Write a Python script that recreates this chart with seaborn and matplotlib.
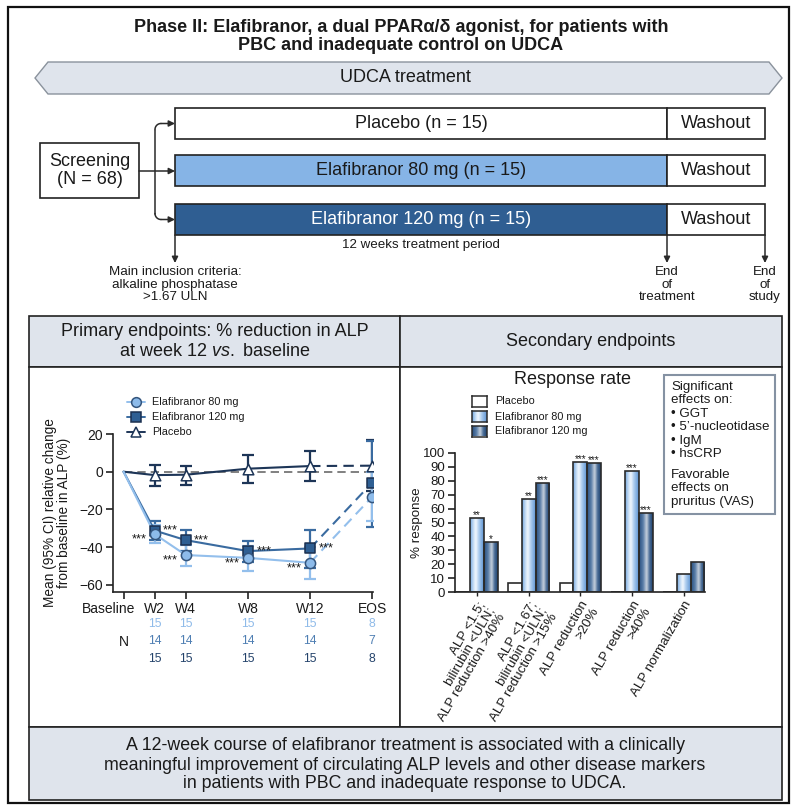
import numpy as np
import pandas as pd
import matplotlib
matplotlib.use("Agg")
import matplotlib.pyplot as plt
import seaborn as sns
from matplotlib.patches import Rectangle, Polygon
from matplotlib.colors import LinearSegmentedColormap
from matplotlib.transforms import ScaledTranslation

# ---------------- data ----------------
weeks = [0, 2, 4, 8, 12, 16]
week_labels = ["Baseline", "W2", "W4", "W8", "W12", "EOS"]

alp_80 = [0, -33.1, -44.2, -45.7, -48.3, -13.3]
alp_80_lo = [0, -38.0, -50.0, -52.6, -56.9, -26.0]
alp_80_hi = [0, -28.0, -39.0, -39.5, -40.0, 0.0]

alp_120 = [0, -31.2, -36.3, -42.1, -40.7, -5.8]
alp_120_lo = [0, -36.3, -42.0, -47.8, -50.9, -29.2]
alp_120_hi = [0, -26.0, -30.8, -36.6, -30.8, 16.5]

alp_pbo = [0, -1.8, -1.6, 1.6, 3.0, 3.2]
alp_pbo_lo = [0, -7.4, -6.9, -6.2, -5.1, -10.4]
alp_pbo_hi = [0, 3.7, 3.2, 9.0, 11.2, 17.0]

n_80 = [15, 15, 15, 15, 8]
n_120 = [14, 14, 14, 14, 7]
n_pbo = [15, 15, 15, 15, 8]

sig_alp_80 = ["***", "***", "***", "***"]
sig_alp_120 = ["***", "***", "***", "***"]

criteria = [
    "ALP <1.5;\nbilirubin <ULN;\nALP reduction >40%",
    "ALP <1.67;\nbilirubin <ULN;\nALP reduction >15%",
    "ALP reduction\n>20%",
    "ALP reduction\n>40%",
    "ALP normalization",
]
resp_groups = ["Placebo", "Elafibranor 80 mg", "Elafibranor 120 mg"]
resp_pbo = [0, 6.7, 6.7, 0, 0]
resp_80 = [53.3, 66.7, 93.3, 86.7, 13.3]
resp_120 = [35.7, 78.6, 92.9, 57.1, 21.4]
sig_resp_80 = ["**", "**", "***", "***", ""]
sig_resp_120 = ["*", "***", "***", "***", ""]

effects = ["\u2022 GGT", "\u2022 5\u2019-nucleotidase", "\u2022 IgM", "\u2022 hsCRP"]

# ---------------- style ----------------
sns.set_theme(style="ticks")
plt.rcParams["font.family"] = ["Liberation Sans", "DejaVu Sans"]
plt.rcParams["mathtext.fontset"] = "custom"
plt.rcParams["mathtext.rm"] = "Liberation Sans"
plt.rcParams["mathtext.it"] = "Liberation Sans:italic"
plt.rcParams["axes.unicode_minus"] = True

C80_LINE, C80_FACE, C80_EDGE = "#93bfec", "#8dbbea", "#34557d"
C120_LINE, C120_FACE, C120_EDGE = "#3a6ba0", "#2f5f93", "#1b3050"
CPBO_LINE, CPBO_EDGE = "#1d3557", "#1d3557"
N_COLORS = ["#8fbbe9", "#4f7fb3", "#24436b"]
PANEL_FILL = "#dfe4ec"
BOX80 = "#86b4e6"
BOX120 = "#2f5e92"
INK = "#1a1a1a"

W, H = 792, 806
fig = plt.figure(figsize=(W / 100, H / 100), dpi=100)
bg = fig.add_axes([0, 0, 1, 1])
bg.set_xlim(0, W)
bg.set_ylim(H, 0)
bg.axis("off")


def px_axes(x0, y0, x1, y1):
    return fig.add_axes([x0 / W, 1 - y1 / H, (x1 - x0) / W, (y1 - y0) / H])


def box(x0, y0, x1, y1, fc="white", ec="#222222", lw=1.2, z=1):
    bg.add_patch(Rectangle((x0, y0), x1 - x0, y1 - y0, fc=fc, ec=ec, lw=lw, zorder=z))


def arrow(x0, y0, x1, y1):
    bg.annotate("", xy=(x1, y1), xytext=(x0, y0),
                arrowprops=dict(arrowstyle="-|>", color="#2a2a2a", lw=1.1,
                                mutation_scale=9, shrinkA=0, shrinkB=0), zorder=3)


# ---------------- study design ----------------
box(8, 7, 789, 803, fc="none", ec="#111111", lw=1.6, z=0)

bg.text(401, 28, "Phase II: Elafibranor, a dual PPAR\u03b1/\u03b4 agonist, for patients with",
        ha="center", va="center", fontsize=13, fontweight="bold", color=INK)
bg.text(401, 46, "PBC and inadequate control on UDCA",
        ha="center", va="center", fontsize=13, fontweight="bold", color=INK)

bg.add_patch(Polygon([(35, 78), (48, 62), (769, 62), (782, 78), (769, 94), (48, 94)],
                     closed=True, fc=PANEL_FILL, ec="#8a929c", lw=1.0, zorder=1))
bg.text(405, 78, "UDCA treatment", ha="center", va="center", fontsize=13, color=INK)

arms = [("Placebo (n = 15)", 108, 139, "white", INK),
        ("Elafibranor 80 mg (n = 15)", 155, 186, BOX80, INK),
        ("Elafibranor 120 mg (n = 15)", 204, 235, BOX120, "white")]
for label, y0, y1, fc, tc in arms:
    box(175, y0, 667, y1, fc=fc)
    box(667, y0, 765, y1, fc="white")
    bg.text(421, (y0 + y1) / 2, label, ha="center", va="center", fontsize=13, color=tc, zorder=4)
    bg.text(716, (y0 + y1) / 2, "Washout", ha="center", va="center", fontsize=13, color=INK, zorder=4)

box(40, 143, 139, 198)
bg.text(90, 161, "Screening", ha="center", va="center", fontsize=13, color=INK)
bg.text(90, 179, "(N = 68)", ha="center", va="center", fontsize=13, color=INK)

# branching connector
r = 6
t = np.linspace(0, np.pi / 2, 20)
bg.plot([155, 155], [123.5 + r, 219.5 - r], color="#2a2a2a", lw=1.1, zorder=2)
bg.plot(155 + r - r * np.cos(t), 123.5 + r - r * np.sin(t), color="#2a2a2a", lw=1.1, zorder=2)
bg.plot(155 + r - r * np.cos(t), 219.5 - r + r * np.sin(t), color="#2a2a2a", lw=1.1, zorder=2)
arrow(155 + r, 123.5, 175, 123.5)
arrow(155 + r, 219.5, 175, 219.5)
arrow(139, 171, 175, 171)

for x in (175, 667, 765):
    arrow(x, 235, x, 263)
bg.text(421, 245, "12 weeks treatment period", ha="center", va="center", fontsize=9.6, color=INK)
bg.text(175, 266, "Main inclusion criteria:\nalkaline phosphatase\n>1.67 ULN", ha="center", va="top",
        fontsize=9.6, linespacing=1.08, color=INK)
bg.text(667, 266, "End\nof\ntreatment", ha="center", va="top", fontsize=9.6, linespacing=1.08, color=INK)
bg.text(765, 266, "End\nof\nstudy", ha="center", va="top", fontsize=9.6, linespacing=1.08, color=INK)

# ---------------- endpoint panels ----------------
box(29, 316, 400, 367, fc=PANEL_FILL)
box(400, 316, 782, 367, fc=PANEL_FILL)
box(29, 367, 400, 727)
box(400, 367, 782, 727)
box(29, 727, 782, 800, fc=PANEL_FILL)

bg.text(214.5, 331, "Primary endpoints: % reduction in ALP", ha="center", va="center", fontsize=13, color=INK)
bg.text(214.5, 351, r"at week 12 $\it{vs.}$ baseline", ha="center", va="center", fontsize=13, color=INK)
bg.text(591, 341, "Secondary endpoints", ha="center", va="center", fontsize=13, color=INK)

summary = ["A 12-week course of elafibranor treatment is associated with a clinically",
           "meaningful improvement of circulating ALP levels and other disease markers",
           "in patients with PBC and inadequate response to UDCA."]
for i, line in enumerate(summary):
    bg.text(405, 746 + 19 * i, line, ha="center", va="center", fontsize=12.8, color=INK)

# ---------------- ALP change over time ----------------
axL = px_axes(113, 434, 373, 592)
axL.patch.set_alpha(0)
axL.plot([0, 16], [0, 0], color="#6b6b6b", lw=1.2, dashes=(5, 3), zorder=1)

series = [
    (alp_pbo, alp_pbo_lo, alp_pbo_hi, CPBO_LINE, "white", CPBO_EDGE, "^", 58),
    (alp_120, alp_120_lo, alp_120_hi, C120_LINE, C120_FACE, C120_EDGE, "s", 52),
    (alp_80, alp_80_lo, alp_80_hi, C80_LINE, C80_FACE, C80_EDGE, "o", 54),
]
for vals, lo, hi, lc, fc, ec, mk, size in series:
    df = pd.DataFrame({"week": weeks, "change": vals})
    v = np.array(vals[1:])
    yerr = [v - np.array(lo[1:]), np.array(hi[1:]) - v]
    axL.errorbar(weeks[1:], v, yerr=yerr, fmt="none", ecolor=lc, elinewidth=1.6,
                 capsize=4.2, capthick=1.6, zorder=2)
    sns.lineplot(data=df.iloc[:5], x="week", y="change", ax=axL, color=lc, lw=1.5,
                 estimator=None, sort=False, zorder=3)
    sns.lineplot(data=df.iloc[4:], x="week", y="change", ax=axL, color=lc, lw=1.5,
                 estimator=None, sort=False, linestyle=(0, (5, 3)), zorder=3)
    sns.scatterplot(x=weeks[1:], y=vals[1:], ax=axL, marker=mk, s=size, color=fc,
                    edgecolor=ec, linewidth=1.1, zorder=5, legend=False)

for w, v, s in zip(weeks[1:5], alp_80[1:5], sig_alp_80):
    axL.annotate(s, (w, v), xytext=(-11, -4), textcoords="offset points",
                 ha="center", va="center", fontsize=9.3, color=INK)
for w, v, s in zip(weeks[1:5], alp_120[1:5], sig_alp_120):
    axL.annotate(s, (w, v), xytext=(11.5, 0), textcoords="offset points",
                 ha="center", va="center", fontsize=9.3, color=INK)

axL.set_xlim(-0.68, 16.05)
axL.set_ylim(-63.8, 20)
axL.set_yticks([20, 0, -20, -40, -60])
axL.set_xticks(weeks)
axL.set_xticklabels(week_labels)
axL.set_xlabel("")
axL.set_ylabel("Mean (95% CI) relative change\nfrom baseline in ALP (%)", fontsize=9.8,
               linespacing=1.05, color=INK)
axL.yaxis.set_label_coords(-0.16, 0.5)
sns.despine(ax=axL)
for sp in ("left", "bottom"):
    axL.spines[sp].set_linewidth(1.2)
    axL.spines[sp].set_color("#222222")
axL.tick_params(direction="out", length=5, width=1.2, color="#222222", labelsize=10,
                labelcolor=INK, pad=2)
base_lbl = axL.get_xticklabels()[0]
base_lbl.set_transform(base_lbl.get_transform() + ScaledTranslation(-0.15, 0, fig.dpi_scale_trans))

xt = axL.get_xaxis_transform()
for row, (counts, col) in enumerate(zip([n_80, n_120, n_pbo], N_COLORS)):
    yy = -(624 + 17.5 * row - 592) / 158
    for w, n in zip(weeks[1:], counts):
        axL.text(w, yy, str(n), transform=xt, ha="center", va="center", fontsize=8.7, color=col)
axL.text(0, -(641.5 - 592) / 158, "N", transform=xt, ha="center", va="center", fontsize=10, color=INK)

# legend keys
leg_rows = [("Elafibranor 80 mg", 402, C80_LINE, C80_FACE, C80_EDGE, "o", 7.0),
            ("Elafibranor 120 mg", 417, C120_LINE, C120_FACE, C120_EDGE, "s", 6.8),
            ("Placebo", 432, CPBO_LINE, "white", CPBO_EDGE, "^", 7.4)]
for lab, y, lc, fc, ec, mk, ms in leg_rows:
    bg.plot([127, 145], [y, y], color=lc, lw=1.4, zorder=3)
    bg.plot([136], [y], marker=mk, ms=ms, mfc=fc, mec=ec, mew=1.1, zorder=4)
    bg.text(152, y, lab, ha="left", va="center", fontsize=7.8, color=INK)

# ---------------- response rate ----------------
axR = px_axes(455, 452.7, 705, 592.3)
axR.patch.set_alpha(0)
resp_df = pd.DataFrame({
    "criterion": criteria * 3,
    "group": [g for g in resp_groups for _ in criteria],
    "response": resp_pbo + resp_80 + resp_120,
})
sns.barplot(data=resp_df, x="criterion", y="response", hue="group", order=criteria,
            hue_order=resp_groups, palette=["white", "#9cc4ee", "#3d6496"],
            edgecolor="#2b2b2b", linewidth=1.2, width=0.8, ax=axR, legend=False, zorder=2)

grad = np.linspace(0, 1, 96).reshape(1, -1)
cmap80 = LinearSegmentedColormap.from_list(
    "g80", [(0, "#74a8e0"), (0.3, "#d6e7f8"), (0.42, "#f2f8fe"), (0.65, "#aacbee"), (1, "#5e94d3")])
cmap120 = LinearSegmentedColormap.from_list(
    "g120", [(0, "#284f80"), (0.3, "#5a7ea8"), (0.55, "#c9d3de"), (0.76, "#4a6d97"), (1, "#1f426f")])
for cont, cmap in zip(axR.containers, [None, cmap80, cmap120]):
    for bar in cont:
        if cmap is None or bar.get_height() <= 0:
            continue
        x0, w, h = bar.get_x(), bar.get_width(), bar.get_height()
        im = axR.imshow(grad, cmap=cmap, extent=(x0, x0 + w, 0, h), aspect="auto",
                        interpolation="bicubic", zorder=2.5)
        im.set_clip_path(bar)
        bar.set_facecolor("none")
        bar.set_zorder(3)

for cont, sigs in zip(axR.containers[1:], [sig_resp_80, sig_resp_120]):
    for bar, s in zip(cont, sigs):
        if s:
            axR.text(bar.get_x() + bar.get_width() / 2, bar.get_height() - 1.5, s,
                     ha="center", va="bottom", fontsize=7.2, color=INK)

axR.set_xlim(-0.425, 4.41)
axR.set_ylim(0, 100)
axR.set_yticks(range(0, 101, 10))
axR.set_xlabel("")
axR.set_ylabel("% response", fontsize=9.6, color=INK)
axR.yaxis.set_label_coords(-0.128, 0.5)
sns.despine(ax=axR)
for sp in ("left", "bottom"):
    axR.spines[sp].set_linewidth(1.2)
    axR.spines[sp].set_color("#222222")
axR.tick_params(axis="y", direction="out", length=5, width=1.2, color="#222222",
                labelsize=9.5, labelcolor=INK, pad=2)
axR.tick_params(axis="x", direction="out", length=3, width=1.0, color="#222222",
                labelsize=9.6, labelcolor=INK, pad=2)
for lbl in axR.get_xticklabels():
    lbl.set_rotation(60)
    lbl.set_ha("right")
    lbl.set_va("top")
    lbl.set_rotation_mode("anchor")
    lbl.set_multialignment("right")
    lbl.set_linespacing(1.0)

bg.text(573, 380, "Response rate", ha="center", va="center", fontsize=13, color=INK)
for (lab, cmap), y in zip([("Placebo", None), ("Elafibranor 80 mg", cmap80),
                           ("Elafibranor 120 mg", cmap120)], [401.5, 416.5, 431]):
    sw = px_axes(472, y - 5.5, 487, y + 5.5)
    if cmap is not None:
        sw.imshow(grad, cmap=cmap, aspect="auto", interpolation="bicubic")
    sw.set_xticks([])
    sw.set_yticks([])
    for sp in sw.spines.values():
        sp.set_linewidth(1.1)
        sp.set_color("#2b2b2b")
    bg.text(495, y, lab, ha="left", va="center", fontsize=7.8, color=INK)

# effects box
box(664, 375, 775, 514, fc="white", ec="#8592a3", lw=1.5)
eff_lines = ["Significant", "effects on:"] + effects
for i, line in enumerate(eff_lines):
    bg.text(671, 387 + 13.4 * i, line, ha="left", va="center", fontsize=9.6, color=INK, zorder=4)
for i, line in enumerate(["Favorable", "effects on", "pruritus (VAS)"]):
    bg.text(671, 475 + 13.4 * i, line, ha="left", va="center", fontsize=9.6, color=INK, zorder=4)

fig.savefig("out.png", dpi=100)
